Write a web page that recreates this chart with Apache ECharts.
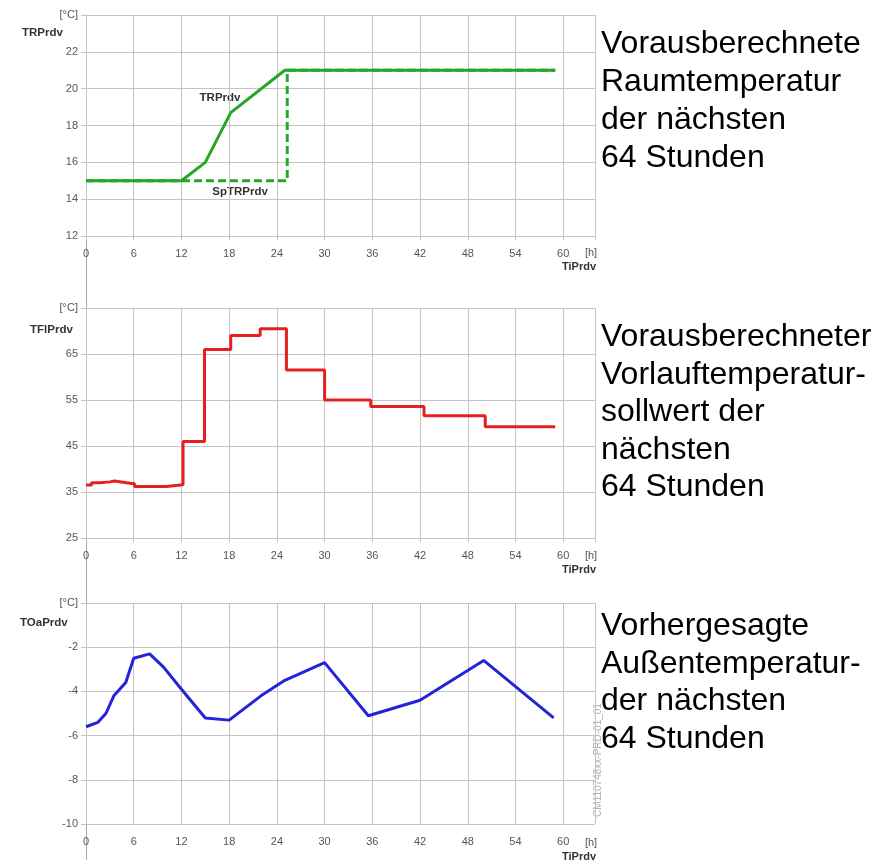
<!DOCTYPE html>
<html>
<head>
<meta charset="utf-8">
<script src="https://cdn.jsdelivr.net/npm/echarts@6/dist/echarts.min.js"></script>
<style>
html,body{margin:0;padding:0;background:#fff;}
#c{width:892px;height:860px;}
</style>
</head>
<body>
<div id="c"></div>
<script>
// ---- data ----
const xTicks = { min: 0, max: 64, interval: 6 };

// Room temperature (top)
const trHours = [0, 12, 15, 18.2, 25, 59];
const trValues = [15, 15, 16, 18.7, 21, 21];
const spHours = [0, 25.3, 59];
const spValues = [15, 21, 21];

// Flow temperature setpoint (middle, stepped)
const tfHours = [0, 0.7, 1.8, 3.0, 3.6, 5.1, 6.1, 10.1, 12.2, 14.9, 18.2, 21.9, 25.2, 30.0, 35.8, 42.5, 50.2, 59];
const tfValues = [36.5, 37.0, 37.2, 37.4, 37.0, 36.8, 36.2, 36.6, 46, 66, 69, 70.5, 61.5, 55, 53.6, 51.6, 49.2, 49.2];

// Outside temperature (bottom)
const toHours = [0, 1.5, 2.5, 3.5, 5, 6, 8, 9.75, 12, 15, 18, 22, 25, 30, 35.5, 42, 50, 58.8];
const toValues = [-5.6, -5.4, -5.0, -4.2, -3.6, -2.5, -2.3, -2.9, -3.9, -5.2, -5.3, -4.2, -3.5, -2.7, -5.1, -4.4, -2.6, -5.2];

const yRanges = [
  { min: 12, max: 24, interval: 2 },
  { min: 25, max: 75, interval: 10 },
  { min: -10, max: 0, interval: 2 }
];

const zip = (a, b) => a.map((v, i) => [v, b[i]]);

const FONT = "'Liberation Sans', Arial, sans-serif";
const gridColor = '#c4c4c4';
const labelColor = '#555';

const grids = [
  { left: 86, top: 15, width: 509, height: 221 },
  { left: 86, top: 308, width: 509, height: 230 },
  { left: 86, top: 603, width: 509, height: 221 }
];

const xAxes = grids.map((g, i) => ({
  type: 'value', gridIndex: i, min: xTicks.min, max: xTicks.max, interval: xTicks.interval,
  axisLine: { show: true, lineStyle: { color: gridColor } },
  axisTick: { show: true, length: 4, lineStyle: { color: gridColor } },
  splitLine: { show: true, lineStyle: { color: gridColor, width: 1 } },
  axisLabel: {
    color: labelColor, fontSize: 11, fontFamily: FONT, margin: 12,
    showMaxLabel: true,
    formatter: v => (v === xTicks.max ? '' : String(v))
  }
}));

const yAxes = yRanges.map((r, i) => ({
  type: 'value', gridIndex: i, min: r.min, max: r.max, interval: r.interval,
  axisLine: { show: false },
  axisTick: { show: true, length: 5, lineStyle: { color: gridColor } },
  splitLine: { show: true, lineStyle: { color: gridColor, width: 1 } },
  axisLabel: {
    color: labelColor, fontSize: 11, fontFamily: FONT, margin: 8,
    showMaxLabel: true, showMinLabel: true,
    formatter: v => (v === r.max ? '[°C]' : String(v))
  }
}));

const green = '#25a625';
const red = '#e62020';
const blue = '#2323d8';

const series = [
  {
    name: 'SpTRPrdv', type: 'line', xAxisIndex: 0, yAxisIndex: 0, step: 'end',
    data: zip(spHours, spValues), symbol: 'none', silent: true,
    lineStyle: { color: green, width: 3, type: [8, 4] }, z: 3
  },
  {
    name: 'TRPrdv', type: 'line', xAxisIndex: 0, yAxisIndex: 0,
    data: zip(trHours, trValues), symbol: 'none', silent: true,
    lineStyle: { color: green, width: 3 }, z: 2
  },
  {
    name: 'TFlPrdv', type: 'line', xAxisIndex: 1, yAxisIndex: 1, step: 'end',
    data: zip(tfHours, tfValues), symbol: 'none', silent: true,
    lineStyle: { color: red, width: 3 }
  },
  {
    name: 'TOaPrdv', type: 'line', xAxisIndex: 2, yAxisIndex: 2,
    data: zip(toHours, toValues), symbol: 'none', silent: true,
    lineStyle: { color: blue, width: 3 }
  }
];

function txt(x, y, text, opts) {
  return {
    type: 'text', x: x, y: y, silent: true,
    style: Object.assign({ text: text, fill: '#222', font: '11px ' + FONT, align: 'left', verticalAlign: 'middle' }, opts || {})
  };
}

const bold = 'bold 11.5px ' + FONT;
const big = '32px ' + FONT;

const graphic = [
  { type: 'line', silent: true, shape: { x1: 86.5, y1: 15, x2: 86.5, y2: 860 }, style: { stroke: '#a8a8a8', lineWidth: 1 } },
  // axis titles
  txt(22, 33, 'TRPrdv', { font: bold, fill: '#333' }),
  txt(30, 330, 'TFlPrdv', { font: bold, fill: '#333' }),
  txt(20, 623, 'TOaPrdv', { font: bold, fill: '#333' }),
  // in-plot labels
  txt(220, 98, 'TRPrdv', { font: bold, fill: '#333', align: 'center' }),
  txt(240, 192, 'SpTRPrdv', { font: bold, fill: '#333', align: 'center' }),
  // x units & names
  txt(591, 253, '[h]', { fill: labelColor, align: 'center' }),
  txt(596, 267, 'TiPrdv', { font: 'bold 11px ' + FONT, fill: '#333', align: 'right' }),
  txt(591, 556, '[h]', { fill: labelColor, align: 'center' }),
  txt(596, 570, 'TiPrdv', { font: 'bold 11px ' + FONT, fill: '#333', align: 'right' }),
  txt(591, 843, '[h]', { fill: labelColor, align: 'center' }),
  txt(596, 857, 'TiPrdv', { font: 'bold 11px ' + FONT, fill: '#333', align: 'right' }),
  // right descriptions
  txt(601, 25.5, 'Vorausberechnete\nRaumtemperatur\nder nächsten\n64 Stunden', { font: big, fill: '#000', verticalAlign: 'top', lineHeight: 38 }),
  txt(601, 318.5, 'Vorausberechneter\nVorlauftemperatur-\nsollwert der\nnächsten\n64 Stunden', { font: big, fill: '#000', verticalAlign: 'top', lineHeight: 37.5 }),
  txt(601, 607, 'Vorhergesagte\nAußentemperatur-\nder nächsten\n64 Stunden', { font: big, fill: '#000', verticalAlign: 'top', lineHeight: 37.8 }),
  // vertical code
  { type: 'text', x: 598, y: 760, rotation: Math.PI / 2, silent: true,
    style: { text: 'CM110748xx-PRD-01_01', fill: '#b0b0b0', font: '10px ' + FONT, align: 'center', verticalAlign: 'middle' } }
];

const chart = echarts.init(document.getElementById('c'), null, { renderer: 'canvas' });
chart.setOption({
  animation: false,
  backgroundColor: '#fff',
  grid: grids,
  xAxis: xAxes,
  yAxis: yAxes,
  series: series,
  graphic: graphic
});
</script>
</body>
</html>
